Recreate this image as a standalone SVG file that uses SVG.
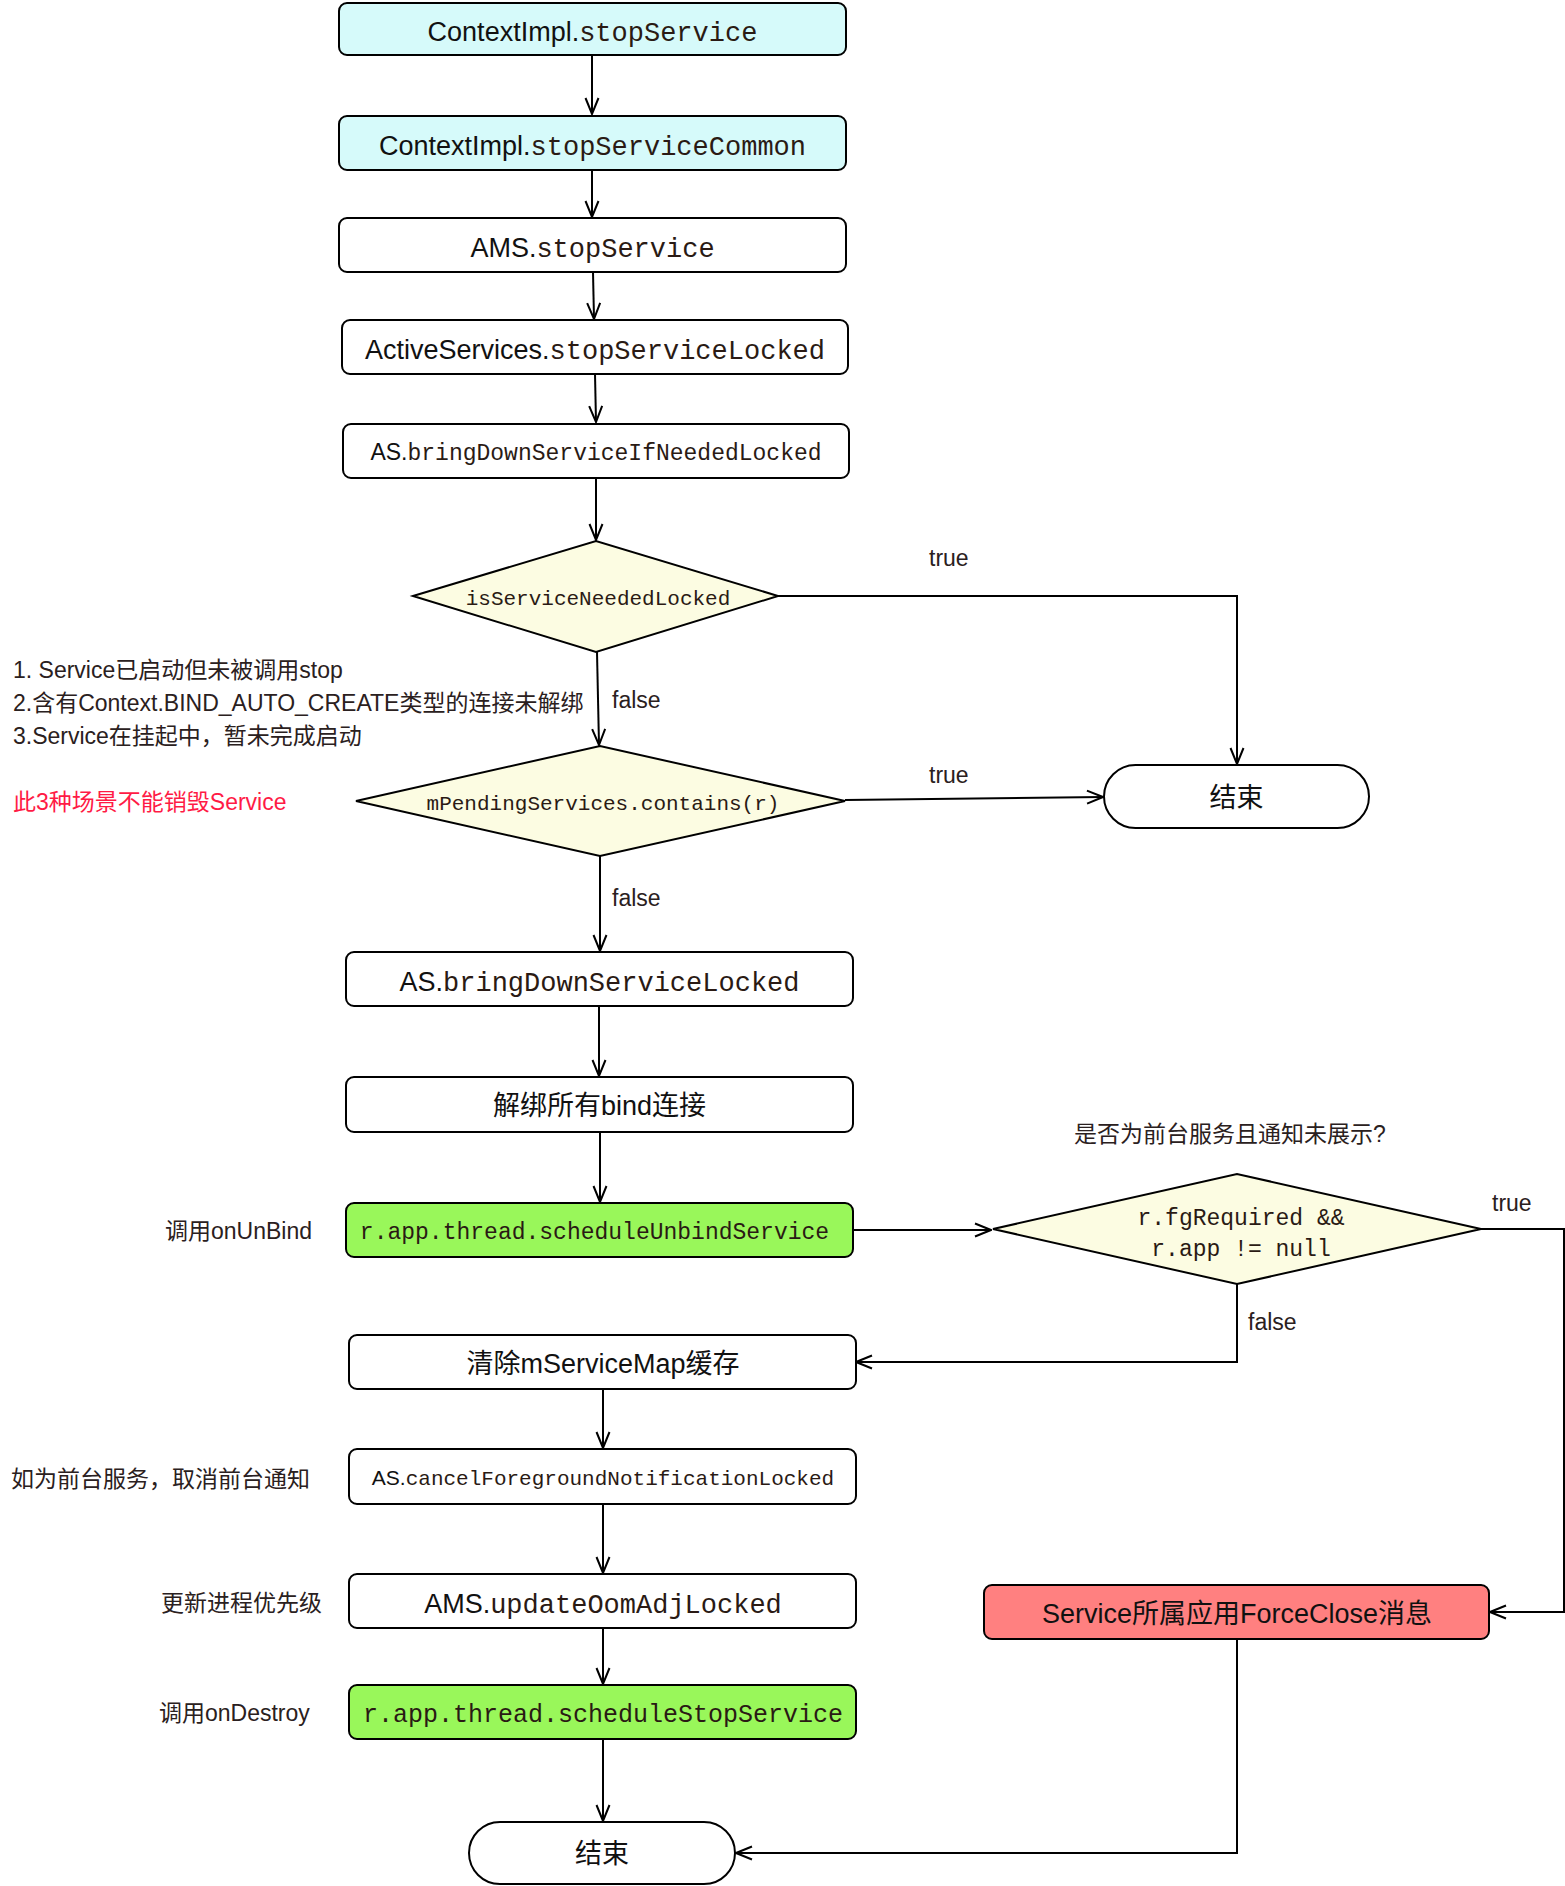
<svg xmlns="http://www.w3.org/2000/svg" width="1565" height="1886" viewBox="0 0 1565 1886">
<style>
.box{fill:#fff;stroke:#000;stroke-width:2}
.cyan{fill:#d6fafa}
.green{fill:#99f75a}
.red{fill:#ff8080}
.dia{fill:#fcfce2;stroke:#000;stroke-width:2}
.ln{fill:none;stroke:#000;stroke-width:2}
.s{font-family:"Liberation Sans","Noto Sans CJK SC",sans-serif;fill:#111}
.m{font-family:"Liberation Mono","Noto Sans CJK SC",monospace;fill:#2a1a14}
.t27{font-size:27px}
.c{text-anchor:middle}
.lbl{font-family:"Liberation Sans","Noto Sans CJK SC",sans-serif;font-size:23px;fill:#2a2020}
.warn{font-family:"Liberation Sans","Noto Sans CJK SC",sans-serif;font-size:23px;fill:#ff1a45}
</style>
<defs>
<marker id="arr" viewBox="0 0 18 16" refX="17" refY="8" markerWidth="18" markerHeight="16" markerUnits="userSpaceOnUse" orient="auto">
<path d="M1,1.5 L17,8 L1,14.5" fill="none" stroke="#000" stroke-width="2"/>
</marker>
</defs>
<rect width="1565" height="1886" fill="#fff"/>

<g id="connectors">
<path class="ln" d="M592,55 L592,114" marker-end="url(#arr)"/>
<path class="ln" d="M592,170 L592,217" marker-end="url(#arr)"/>
<path class="ln" d="M593,272 L594,319" marker-end="url(#arr)"/>
<path class="ln" d="M595,374 L596,422" marker-end="url(#arr)"/>
<path class="ln" d="M596,478 L596,540" marker-end="url(#arr)"/>
<path class="ln" d="M778,596 L1237,596 L1237,764" marker-end="url(#arr)"/>
<path class="ln" d="M597,652 L599,745" marker-end="url(#arr)"/>
<path class="ln" d="M845,800 L1103,797" marker-end="url(#arr)"/>
<path class="ln" d="M600,856 L600,951" marker-end="url(#arr)"/>
<path class="ln" d="M599,1006 L599,1076" marker-end="url(#arr)"/>
<path class="ln" d="M600,1132 L600,1202" marker-end="url(#arr)"/>
<path class="ln" d="M853,1230 L991,1230" marker-end="url(#arr)"/>
<path class="ln" d="M1481,1229 L1564,1229 L1564,1612 L1490,1612" marker-end="url(#arr)"/>
<path class="ln" d="M1237,1284 L1237,1362 L856,1362" marker-end="url(#arr)"/>
<path class="ln" d="M603,1389 L603,1448" marker-end="url(#arr)"/>
<path class="ln" d="M603,1504 L603,1573" marker-end="url(#arr)"/>
<path class="ln" d="M603,1628 L603,1684" marker-end="url(#arr)"/>
<path class="ln" d="M603,1739 L603,1821" marker-end="url(#arr)"/>
<path class="ln" d="M1237,1639 L1237,1853 L736,1853" marker-end="url(#arr)"/>
</g>

<g id="edge-labels">
<text class="lbl" x="929" y="566">true</text>
<text class="lbl" x="612" y="708">false</text>
<text class="lbl" x="929" y="783">true</text>
<text class="lbl" x="612" y="906">false</text>
<text class="lbl" x="1492" y="1211">true</text>
<text class="lbl" x="1248" y="1330">false</text>
</g>

<g id="n1">
<rect class="box cyan" x="339" y="3" width="507" height="52" rx="8"/>
<text class="c t27" x="592.5" y="41"><tspan class="s">ContextImpl.</tspan><tspan class="m">stopService</tspan></text>
</g>
<g id="n2">
<rect class="box cyan" x="339" y="116" width="507" height="54" rx="8"/>
<text class="c t27" x="592.5" y="155"><tspan class="s">ContextImpl.</tspan><tspan class="m">stopServiceCommon</tspan></text>
</g>
<g id="n3">
<rect class="box" x="339" y="218" width="507" height="54" rx="8"/>
<text class="c t27" x="592.5" y="257"><tspan class="s">AMS.</tspan><tspan class="m">stopService</tspan></text>
</g>
<g id="n4">
<rect class="box" x="342" y="320" width="506" height="54" rx="8"/>
<text class="c t27" x="595" y="359"><tspan class="s">ActiveServices.</tspan><tspan class="m">stopServiceLocked</tspan></text>
</g>
<g id="n5">
<rect class="box" x="343" y="424" width="506" height="54" rx="8"/>
<text class="c" style="font-size:23px" x="596" y="460"><tspan class="s">AS.</tspan><tspan class="m">bringDownServiceIfNeededLocked</tspan></text>
</g>
<g id="d1">
<polygon class="dia" points="413,596 596,541 778,596 596,652"/>
<text class="m c" style="font-size:21px" x="598" y="605">isServiceNeededLocked</text>
</g>
<g id="d2">
<polygon class="dia" points="356,801 600,746 845,801 600,856"/>
<text class="m c" style="font-size:21px" x="603" y="810">mPendingServices.contains(r)</text>
</g>
<g id="end1">
<rect class="box" x="1104" y="765" width="265" height="63" rx="31.5"/>
<text class="s c t27" x="1236.5" y="807">结束</text>
</g>
<g id="n6">
<rect class="box" x="346" y="952" width="507" height="54" rx="8"/>
<text class="c t27" x="599.5" y="991"><tspan class="s">AS.</tspan><tspan class="m">bringDownServiceLocked</tspan></text>
</g>
<g id="n7">
<rect class="box" x="346" y="1077" width="507" height="55" rx="8"/>
<text class="s c t27" x="599.5" y="1115">解绑所有bind连接</text>
</g>
<g id="n8">
<rect class="box green" x="346" y="1203" width="507" height="54" rx="8"/>
<text class="m c" style="font-size:23px" x="594.5" y="1239">r.app.thread.scheduleUnbindService</text>
</g>
<g id="d3">
<polygon class="dia" points="993,1229 1237,1174 1481,1229 1237,1284"/>
<text class="m c" style="font-size:23px" x="1241" y="1225">r.fgRequired &amp;&amp;</text>
<text class="m c" style="font-size:23px" x="1241" y="1256">r.app != null</text>
</g>
<g id="n9">
<rect class="box" x="349" y="1335" width="507" height="54" rx="8"/>
<text class="s c t27" x="603" y="1373">清除mServiceMap缓存</text>
</g>
<g id="n10">
<rect class="box" x="349" y="1449" width="507" height="55" rx="8"/>
<text class="c" style="font-size:21px" x="603" y="1485"><tspan class="s">AS.</tspan><tspan class="m">cancelForegroundNotificationLocked</tspan></text>
</g>
<g id="n11">
<rect class="box" x="349" y="1574" width="507" height="54" rx="8"/>
<text class="c t27" x="603" y="1613"><tspan class="s">AMS.</tspan><tspan class="m">updateOomAdjLocked</tspan></text>
</g>
<g id="n12">
<rect class="box green" x="349" y="1685" width="507" height="54" rx="8"/>
<text class="m c" style="font-size:25px" x="603" y="1722">r.app.thread.scheduleStopService</text>
</g>
<g id="end2">
<rect class="box" x="469" y="1822" width="266" height="62" rx="31"/>
<text class="s c t27" x="602" y="1863">结束</text>
</g>
<g id="n-forceclose">
<rect class="box red" x="984" y="1585" width="505" height="54" rx="8"/>
<text class="s c t27" x="1237" y="1623">Service所属应用ForceClose消息</text>
</g>

<g id="annotations">
<text class="lbl" x="13" y="678">1. Service已启动但未被调用stop</text>
<text class="lbl" x="13" y="711">2.含有Context.BIND_AUTO_CREATE类型的连接未解绑</text>
<text class="lbl" x="13" y="744">3.Service在挂起中，暂未完成启动</text>
<text class="warn" x="13" y="810">此3种场景不能销毁Service</text>
<text class="lbl" x="1074" y="1142">是否为前台服务且通知未展示?</text>
<text class="lbl" x="165" y="1239">调用onUnBind</text>
<text class="lbl" x="11" y="1487">如为前台服务，取消前台通知</text>
<text class="lbl" x="161" y="1611">更新进程优先级</text>
<text class="lbl" x="159" y="1721">调用onDestroy</text>
</g>
</svg>
